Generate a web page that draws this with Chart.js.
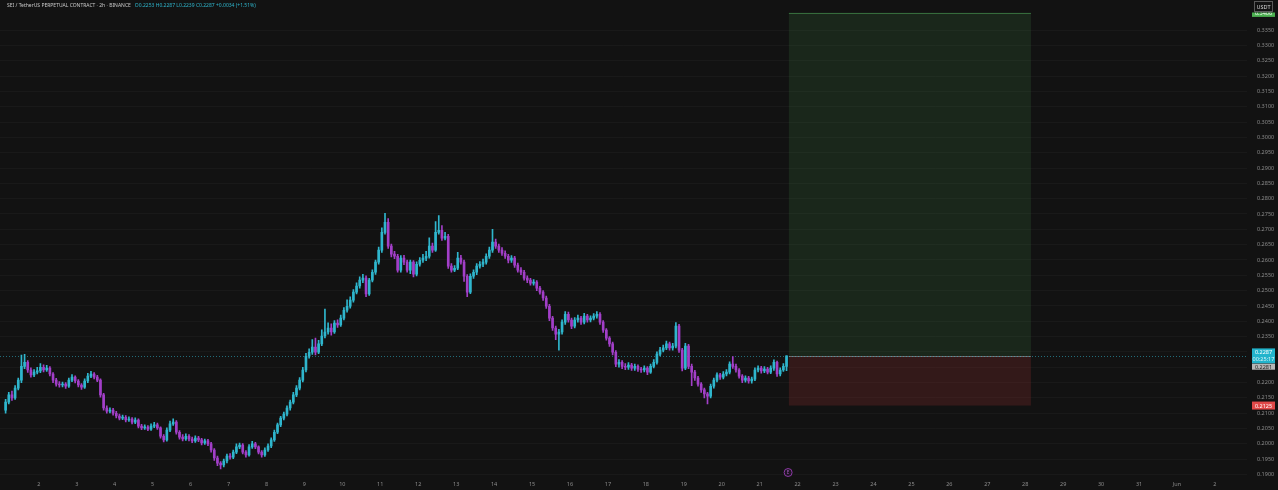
<!DOCTYPE html>
<html lang="en">
<head>
<meta charset="UTF-8">
<title>SEI / TetherUS Perpetual - 2h</title>
<script src="https://cdn.jsdelivr.net/npm/chart.js"></script>
<style>
    html, body { margin: 0; padding: 0; background: #121212; }
    .chart-box { position: relative; width: 1278px; height: 490px; }
</style>
</head>
<body>
<div class="chart-box"><canvas id="priceChart" width="1278" height="490"></canvas></div>
<script>
// 2h candles, first candle at May 1 03:00 (x axis is day-of-month, June continues as 32, 33)
const firstCandleDay = 1.125;
const candlesPerDay = 12;
const firstOpen = 0.2110;

const closes = [
    0.2136,0.2160,0.2150,0.2182,0.2208,0.2253,0.2266,0.2241,0.2225,0.2234,
    0.2238,0.2250,0.2241,0.2247,0.2228,0.2208,0.2195,0.2192,0.2195,0.2188,
    0.2208,0.2218,0.2205,0.2192,0.2185,0.2205,0.2221,0.2228,0.2218,0.2208,
    0.2160,0.2117,0.2107,0.2110,0.2100,0.2091,0.2084,0.2087,0.2078,0.2081,
    0.2071,0.2078,0.2058,0.2052,0.2055,0.2048,0.2058,0.2062,0.2052,0.2025,
    0.2013,0.2045,0.2065,0.2071,0.2038,0.2022,0.2016,0.2025,0.2016,0.2010,
    0.2019,0.2013,0.2003,0.2010,0.2000,0.1980,0.1954,0.1937,0.1931,0.1944,
    0.1960,0.1957,0.1973,0.1990,0.1996,0.1973,0.1964,0.1990,0.2000,0.1990,
    0.1973,0.1964,0.1980,0.1993,0.2013,0.2038,0.2062,0.2084,0.2097,0.2117,
    0.2136,0.2160,0.2182,0.2208,0.2241,0.2286,0.2299,0.2316,0.2299,0.2326,
    0.2352,0.2365,0.2378,0.2365,0.2394,0.2388,0.2410,0.2436,0.2449,0.2469,
    0.2495,0.2515,0.2534,0.2541,0.2489,0.2534,0.2560,0.2593,0.2632,0.2690,
    0.2723,0.2645,0.2619,0.2612,0.2567,0.2606,0.2593,0.2567,0.2593,0.2554,
    0.2586,0.2599,0.2606,0.2612,0.2645,0.2632,0.2690,0.2697,0.2671,0.2677,
    0.2580,0.2567,0.2573,0.2606,0.2593,0.2547,0.2495,0.2547,0.2560,0.2580,
    0.2586,0.2593,0.2612,0.2632,0.2658,0.2645,0.2632,0.2622,0.2612,0.2599,
    0.2606,0.2583,0.2567,0.2560,0.2541,0.2534,0.2524,0.2528,0.2508,0.2495,
    0.2476,0.2449,0.2410,0.2378,0.2358,0.2365,0.2397,0.2423,0.2404,0.2384,
    0.2404,0.2410,0.2397,0.2417,0.2404,0.2410,0.2417,0.2423,0.2397,0.2371,
    0.2345,0.2326,0.2299,0.2260,0.2266,0.2253,0.2250,0.2257,0.2247,0.2253,
    0.2244,0.2241,0.2247,0.2234,0.2253,0.2266,0.2293,0.2306,0.2313,0.2326,
    0.2313,0.2319,0.2384,0.2306,0.2247,0.2319,0.2253,0.2234,0.2215,0.2195,
    0.2176,0.2163,0.2156,0.2188,0.2208,0.2225,0.2218,0.2228,0.2234,0.2260,
    0.2253,0.2241,0.2221,0.2208,0.2215,0.2205,0.2211,0.2241,0.2247,0.2238,
    0.2244,0.2234,0.2247,0.2266,0.2228,0.2241,0.2253,0.2287
];

const highs = [
    0.2145,0.2168,0.2172,0.2190,0.2215,0.2290,0.2292,0.2272,0.2248,0.2242,
    0.2250,0.2262,0.2258,0.2256,0.2252,0.2233,0.2214,0.2203,0.2202,0.2200,
    0.2215,0.2226,0.2222,0.2210,0.2197,0.2212,0.2230,0.2237,0.2233,0.2224,
    0.2212,0.2165,0.2124,0.2118,0.2116,0.2106,0.2097,0.2094,0.2092,0.2088,
    0.2086,0.2085,0.2082,0.2064,0.2062,0.2060,0.2065,0.2070,0.2068,0.2056,
    0.2030,0.2052,0.2074,0.2082,0.2076,0.2043,0.2030,0.2033,0.2030,0.2022,
    0.2026,0.2025,0.2018,0.2016,0.2015,0.2005,0.1985,0.1960,0.1942,0.1950,
    0.1967,0.1968,0.1980,0.2000,0.2003,0.2001,0.1978,0.1998,0.2008,0.2005,
    0.1994,0.1978,0.1987,0.2000,0.2020,0.2045,0.2068,0.2090,0.2104,0.2124,
    0.2143,0.2168,0.2190,0.2216,0.2250,0.2295,0.2310,0.2340,0.2345,0.2338,
    0.2372,0.2440,0.2395,0.2392,0.2402,0.2405,0.2420,0.2445,0.2470,0.2480,
    0.2503,0.2525,0.2545,0.2553,0.2548,0.2540,0.2568,0.2600,0.2642,0.2705,
    0.2752,0.2735,0.2652,0.2628,0.2618,0.2614,0.2615,0.2600,0.2600,0.2598,
    0.2594,0.2608,0.2618,0.2628,0.2672,0.2655,0.2725,0.2745,0.2712,0.2690,
    0.2684,0.2588,0.2582,0.2625,0.2615,0.2600,0.2552,0.2555,0.2568,0.2588,
    0.2595,0.2603,0.2620,0.2642,0.2700,0.2668,0.2652,0.2640,0.2630,0.2618,
    0.2614,0.2612,0.2590,0.2575,0.2566,0.2548,0.2540,0.2536,0.2533,0.2514,
    0.2500,0.2482,0.2455,0.2416,0.2384,0.2374,0.2405,0.2432,0.2430,0.2410,
    0.2412,0.2420,0.2416,0.2426,0.2423,0.2418,0.2425,0.2432,0.2428,0.2402,
    0.2376,0.2350,0.2332,0.2304,0.2275,0.2272,0.2262,0.2265,0.2263,0.2260,
    0.2258,0.2250,0.2255,0.2252,0.2260,0.2275,0.2300,0.2315,0.2322,0.2335,
    0.2332,0.2328,0.2396,0.2390,0.2312,0.2328,0.2325,0.2260,0.2240,0.2220,
    0.2200,0.2182,0.2168,0.2195,0.2215,0.2232,0.2230,0.2236,0.2242,0.2268,
    0.2285,0.2260,0.2246,0.2226,0.2222,0.2220,0.2218,0.2248,0.2255,0.2253,
    0.2252,0.2250,0.2255,0.2274,0.2270,0.2248,0.2262,0.2287
];

const lows = [
    0.2100,0.2130,0.2142,0.2145,0.2176,0.2200,0.2245,0.2233,0.2218,0.2219,
    0.2228,0.2232,0.2235,0.2236,0.2222,0.2200,0.2188,0.2185,0.2186,0.2181,
    0.2184,0.2203,0.2199,0.2186,0.2178,0.2181,0.2200,0.2216,0.2212,0.2203,
    0.2152,0.2110,0.2100,0.2101,0.2094,0.2085,0.2078,0.2079,0.2072,0.2073,
    0.2065,0.2066,0.2052,0.2046,0.2047,0.2043,0.2044,0.2053,0.2047,0.2019,
    0.2006,0.2009,0.2040,0.2060,0.2032,0.2015,0.2010,0.2011,0.2010,0.2004,
    0.2005,0.2007,0.1997,0.1998,0.1994,0.1973,0.1946,0.1929,0.1918,0.1925,
    0.1938,0.1950,0.1952,0.1968,0.1984,0.1967,0.1957,0.1960,0.1985,0.1984,
    0.1967,0.1957,0.1959,0.1975,0.1988,0.2008,0.2033,0.2056,0.2078,0.2091,
    0.2110,0.2130,0.2154,0.2176,0.2202,0.2235,0.2280,0.2292,0.2290,0.2294,
    0.2320,0.2346,0.2358,0.2355,0.2360,0.2380,0.2383,0.2404,0.2430,0.2443,
    0.2462,0.2489,0.2508,0.2526,0.2480,0.2484,0.2528,0.2553,0.2586,0.2625,
    0.2684,0.2638,0.2610,0.2604,0.2560,0.2560,0.2585,0.2560,0.2555,0.2545,
    0.2548,0.2580,0.2592,0.2598,0.2606,0.2625,0.2628,0.2684,0.2664,0.2665,
    0.2572,0.2560,0.2562,0.2568,0.2586,0.2530,0.2480,0.2490,0.2540,0.2552,
    0.2573,0.2578,0.2586,0.2605,0.2625,0.2638,0.2625,0.2615,0.2605,0.2590,
    0.2592,0.2576,0.2560,0.2552,0.2534,0.2526,0.2518,0.2518,0.2500,0.2488,
    0.2468,0.2442,0.2402,0.2370,0.2340,0.2306,0.2358,0.2390,0.2397,0.2376,
    0.2378,0.2397,0.2390,0.2391,0.2397,0.2398,0.2404,0.2410,0.2390,0.2364,
    0.2338,0.2318,0.2290,0.2252,0.2250,0.2245,0.2242,0.2243,0.2240,0.2240,
    0.2236,0.2233,0.2235,0.2226,0.2230,0.2248,0.2260,0.2287,0.2300,0.2307,
    0.2306,0.2306,0.2313,0.2298,0.2238,0.2242,0.2245,0.2190,0.2207,0.2188,
    0.2168,0.2150,0.2130,0.2150,0.2182,0.2202,0.2210,0.2212,0.2222,0.2228,
    0.2246,0.2234,0.2214,0.2200,0.2201,0.2198,0.2198,0.2206,0.2235,0.2231,
    0.2232,0.2228,0.2229,0.2240,0.2220,0.2222,0.2236,0.2239
];

// axis ticks
const yTickValues = [
    0.1900,0.1950,0.2000,0.2050,0.2100,0.2150,0.2200,0.2250,0.2300,0.2350,
    0.2400,0.2450,0.2500,0.2550,0.2600,0.2650,0.2700,0.2750,0.2800,0.2850,
    0.2900,0.2950,0.3000,0.3050,0.3100,0.3150,0.3200,0.3250,0.3300,0.3350
];
const xTickDays = [2,3,4,5,6,7,8,9,10,11,12,13,14,15,16,17,18,19,20,21,22,23,24,25,26,27,28,29,30,31,32,33];
const xTickLabels = ['2','3','4','5','6','7','8','9','10','11','12','13','14','15','16','17','18','19','20','21','22','23','24','25','26','27','28','29','30','31','Jun','2'];

// long position tool
const positionStartDay = 21.77;
const positionEndDay = 28.15;
const entryPrice = 0.2287;
const targetPrice = 0.3406;
const stopPrice = 0.2125;
const entryMarkPrice = 0.2281;

const headerTitle = 'SEI / TetherUS PERPETUAL CONTRACT · 2h · BINANCE';
const headerOHLC = 'O0.2253 H0.2287 L0.2239 C0.2287 +0.0034 (+1.51%)';

const UP = '#2fb6cd';
const DOWN = '#a23fc8';

// build candle data
const opens = closes.map((c, i) => i === 0 ? firstOpen : closes[i - 1]);
const candleDays = closes.map((c, i) => firstCandleDay + i / candlesPerDay);
const bodies = closes.map((c, i) => ({ x: candleDays[i], y: [opens[i], c] }));
const wicks = closes.map((c, i) => ({ x: candleDays[i], y: [lows[i], highs[i]] }));
const candleColors = closes.map((c, i) => c >= opens[i] ? UP : DOWN);

function label(ctx, text, x, y, w, h, bg, fg) {
    ctx.fillStyle = bg;
    ctx.fillRect(x, y, w, h);
    ctx.fillStyle = fg;
    ctx.textAlign = 'center';
    ctx.textBaseline = 'middle';
    ctx.fillText(text, x + w / 2, y + h / 2 + 0.5);
}

const overlayPlugin = {
    id: 'overlay',
    beforeDatasetsDraw(chart) {
        const { ctx, scales: { x, y } } = chart;
        const x0 = x.getPixelForValue(positionStartDay);
        const x1 = x.getPixelForValue(positionEndDay);
        const yE = y.getPixelForValue(entryPrice);
        const yT = y.getPixelForValue(targetPrice);
        const yS = y.getPixelForValue(stopPrice);
        ctx.save();
        ctx.fillStyle = 'rgba(72,150,80,0.17)';
        ctx.fillRect(x0, yT, x1 - x0, yE - yT);
        ctx.fillStyle = 'rgba(225,60,60,0.16)';
        ctx.fillRect(x0, yE, x1 - x0, yS - yE);
        ctx.fillStyle = 'rgba(90,190,100,0.5)';
        ctx.fillRect(x0, yT, x1 - x0, 1);
        ctx.fillStyle = 'rgba(170,170,170,0.55)';
        ctx.fillRect(x0, Math.round(yE), x1 - x0, 1);
        // dotted last price line
        ctx.strokeStyle = 'rgba(47,182,205,0.55)';
        ctx.setLineDash([1, 2]);
        ctx.lineWidth = 1;
        ctx.beginPath();
        ctx.moveTo(x.left, Math.round(yE) + 0.5);
        ctx.lineTo(x.right, Math.round(yE) + 0.5);
        ctx.stroke();
        ctx.restore();
    },
    afterDraw(chart) {
        const { ctx, scales: { x, y } } = chart;
        ctx.save();
        // header
        ctx.font = '5px "Noto Sans"';
        ctx.textBaseline = 'middle';
        ctx.textAlign = 'left';
        ctx.fillStyle = '#c9c9c9';
        ctx.fillText(headerTitle, 7, 5.5);
        const w = ctx.measureText(headerTitle).width;
        ctx.fillStyle = UP;
        ctx.fillText(headerOHLC, 7 + w + 4, 5.5);

        // price scale labels
        const lx = y.left + 5;
        const lw = 23;
        ctx.font = '5.5px "Noto Sans"';
        const yT = y.getPixelForValue(targetPrice);
        label(ctx, targetPrice.toFixed(4), lx, yT - 4, lw, 8, '#4caf50', '#ffffff');
        ctx.fillStyle = '#121212';
        ctx.fillRect(lx - 2, 0, lw + 4, 12.5);
        ctx.strokeStyle = '#5a5a5a';
        ctx.lineWidth = 1;
        ctx.strokeRect(lx + 2.5, 1.5, lw - 5, 10);
        ctx.fillStyle = '#d6d6d6';
        ctx.textAlign = 'center';
        ctx.fillText('USDT', lx + lw / 2, 7);

        const yE = y.getPixelForValue(entryPrice);
        ctx.fillStyle = '#22b4cc';
        ctx.fillRect(lx, yE - 7.5, lw, 15);
        ctx.fillStyle = '#ffffff';
        ctx.fillText(entryPrice.toFixed(4), lx + lw / 2, yE - 3.5);
        ctx.fillStyle = '#d8f4f8';
        ctx.fillText('00:25:17', lx + lw / 2, yE + 3.5);
        label(ctx, entryMarkPrice.toFixed(4), lx, yE + 7.8, lw, 6, '#b7b7b7', '#1c1c1c');
        const yS = y.getPixelForValue(stopPrice);
        label(ctx, stopPrice.toFixed(4), lx, yS - 4, lw, 8, '#e04848', '#ffffff');

        // event marker on time axis
        const mx = x.getPixelForValue(positionStartDay - 0.02);
        ctx.beginPath();
        ctx.arc(mx, 472.5, 4, 0, Math.PI * 2);
        ctx.fillStyle = '#1d1421';
        ctx.fill();
        ctx.strokeStyle = '#8e3aa6';
        ctx.stroke();
        ctx.fillStyle = '#a65bbd';
        ctx.font = '4.5px "Noto Sans"';
        ctx.fillText('E', mx, 472.8);
        ctx.restore();
    }
};

new Chart(document.getElementById('priceChart'), {
    type: 'bar',
    data: {
        datasets: [
            {
                label: 'body',
                data: bodies,
                backgroundColor: candleColors,
                barThickness: 2,
                minBarLength: 1,
                grouped: false,
                order: 1
            },
            {
                label: 'wick',
                data: wicks,
                backgroundColor: candleColors,
                barThickness: 1,
                grouped: false,
                order: 2
            }
        ]
    },
    options: {
        responsive: false,
        animation: false,
        events: [],
        layout: { padding: 0 },
        plugins: {
            legend: { display: false },
            tooltip: { enabled: false }
        },
        scales: {
            x: {
                type: 'linear',
                min: 0.977,
                max: 33.845,
                offset: false,
                grid: { display: false, drawTicks: false },
                border: { display: false },
                afterFit: s => { s.height = 14; },
                afterBuildTicks: s => { s.ticks = xTickDays.map(v => ({ value: v })); },
                ticks: {
                    autoSkip: false,
                    maxRotation: 0,
                    padding: 5,
                    color: '#8c8c8c',
                    font: { family: 'Noto Sans', size: 5.5 },
                    callback: (v, i) => xTickLabels[i]
                }
            },
            y: {
                position: 'right',
                min: 0.18952,
                max: 0.34472,
                grid: {
                    color: 'rgba(255,255,255,0.03)',
                    drawTicks: true,
                    tickLength: 10,
                    tickColor: 'rgba(0,0,0,0)'
                },
                border: { display: false },
                afterFit: s => { s.width = 31; },
                afterBuildTicks: s => { s.ticks = yTickValues.map(v => ({ value: v })); },
                ticks: {
                    padding: 0,
                    color: '#8c8c8c',
                    font: { family: 'Noto Sans', size: 5.5, lineHeight: 0.1 },
                    callback: v => v.toFixed(4)
                }
            }
        }
    },
    plugins: [overlayPlugin]
});
</script>
</body>
</html>
